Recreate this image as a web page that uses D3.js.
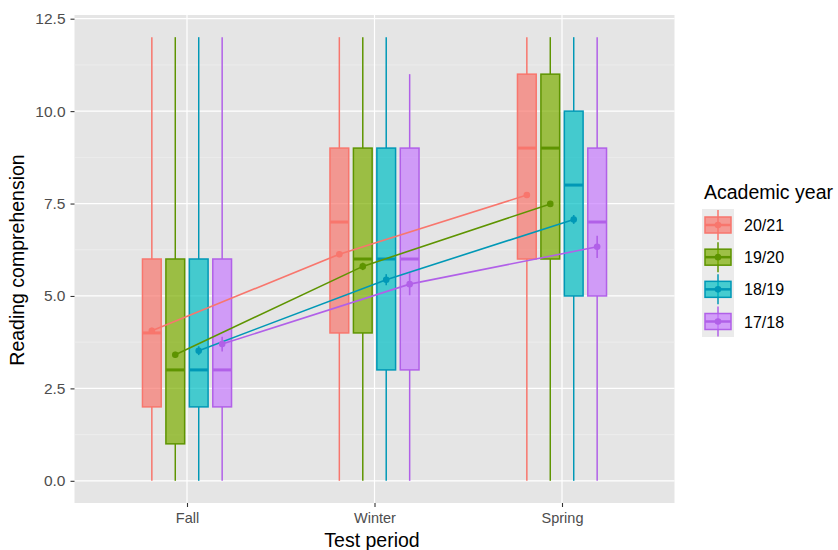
<!DOCTYPE html>
<html>
<head>
<meta charset="utf-8">
<script src="https://cdn.jsdelivr.net/npm/d3@7"></script>
<style>
  body { margin: 0; background: #fff; }
  text { font-family: "Liberation Sans", Arial, sans-serif; }
</style>
</head>
<body>
<div id="chart"></div>
<script>
// categories
const periods = ["Fall", "Winter", "Spring"];
const years = ["20/21", "19/20", "18/19", "17/18"];
const yTicks = [0, 2.5, 5, 7.5, 10, 12.5];

// box stats, one row per year, one column per period
const whiskLo = [[0, 0, 0], [0, 0, 0], [0, 0, 0], [0, 0, 0]];
const q1 = [[2, 4, 6], [1, 4, 6], [2, 3, 5], [2, 3, 5]];
const med = [[4, 7, 9], [3, 6, 9], [3, 6, 8], [3, 6, 7]];
const q3 = [[6, 9, 11], [6, 9, 11], [6, 9, 10], [6, 9, 9]];
const whiskHi = [[12, 12, 12], [12, 12, 12], [12, 12, 12], [12, 11, 12]];

// means and standard errors
const means = [[4.06, 6.13, 7.73], [3.41, 5.8, 7.49], [3.52, 5.44, 7.07], [3.7, 5.32, 6.33]];
const se = [[0.08, 0.08, 0.08], [0.08, 0.1, 0.08], [0.12, 0.15, 0.12], [0.2, 0.3, 0.3]];

const fillColors = ["#F8766D", "#7CAE00", "#00BFC4", "#C77CFF"];
const lineColors = ["#F8766D", "#5E9400", "#0098B6", "#B160E8"];

const width = 838, height = 550;
const margin = {top: 15, right: 163.5, bottom: 47, left: 74.5};
const innerWidth = width - margin.left - margin.right;
const innerHeight = height - margin.top - margin.bottom;

const svg = d3.select("#chart").append("svg")
    .attr("width", width)
    .attr("height", height);

const g = svg.append("g")
    .attr("transform", "translate(" + margin.left + "," + margin.top + ")");

// scales
let xScale = d3.scalePoint().domain(periods).range([0, innerWidth]).padding(0.6);
let step = xScale.step();
let dodge = d3.scaleBand().domain(years).range([-0.25 * step, 0.25 * step]);
let yScale = d3.scaleLinear().domain([-0.6, 12.6]).range([innerHeight, 0]);
let boxW = 0.1 * step;

let xPos = (p, y) => xScale(periods[p]) + dodge(years[y]) + dodge.bandwidth() / 2;

// panel
g.append("rect")
    .attr("width", innerWidth)
    .attr("height", innerHeight)
    .attr("fill", "#E5E5E5");

// minor gridlines
let minor = d3.range(1.25, 12.5, 2.5);
g.selectAll(".minor").data(minor).join("line")
    .attr("x1", 0).attr("x2", innerWidth)
    .attr("y1", d => yScale(d)).attr("y2", d => yScale(d))
    .attr("stroke", "#F2F2F2").attr("stroke-width", 0.6);

// major gridlines
g.selectAll(".hmajor").data(yTicks).join("line")
    .attr("x1", 0).attr("x2", innerWidth)
    .attr("y1", d => yScale(d)).attr("y2", d => yScale(d))
    .attr("stroke", "#fff").attr("stroke-width", 1.2);
g.selectAll(".vmajor").data(periods).join("line")
    .attr("x1", d => xScale(d)).attr("x2", d => xScale(d))
    .attr("y1", 0).attr("y2", innerHeight)
    .attr("stroke", "#fff").attr("stroke-width", 1.2);

// flatten box data
let boxes = [];
years.forEach((yr, i) => {
    periods.forEach((p, j) => {
        boxes.push({i: i, j: j, lo: whiskLo[i][j], q1: q1[i][j], med: med[i][j],
            q3: q3[i][j], hi: whiskHi[i][j]});
    });
});

let boxG = g.selectAll(".box").data(boxes).join("g").attr("class", "box");

// whiskers
boxG.append("line")
    .attr("x1", d => xPos(d.j, d.i)).attr("x2", d => xPos(d.j, d.i))
    .attr("y1", d => yScale(d.lo)).attr("y2", d => yScale(d.q1))
    .attr("stroke", d => lineColors[d.i]).attr("stroke-width", 1.5);
boxG.append("line")
    .attr("x1", d => xPos(d.j, d.i)).attr("x2", d => xPos(d.j, d.i))
    .attr("y1", d => yScale(d.q3)).attr("y2", d => yScale(d.hi))
    .attr("stroke", d => lineColors[d.i]).attr("stroke-width", 1.5);

// boxes
boxG.append("rect")
    .attr("x", d => xPos(d.j, d.i) - boxW / 2)
    .attr("width", boxW)
    .attr("y", d => yScale(d.q3))
    .attr("height", d => yScale(d.q1) - yScale(d.q3))
    .attr("fill", d => fillColors[d.i]).attr("fill-opacity", 0.7)
    .attr("stroke", d => lineColors[d.i]).attr("stroke-width", 1.5);

// medians
boxG.append("line")
    .attr("x1", d => xPos(d.j, d.i) - boxW / 2).attr("x2", d => xPos(d.j, d.i) + boxW / 2)
    .attr("y1", d => yScale(d.med)).attr("y2", d => yScale(d.med))
    .attr("stroke", d => lineColors[d.i]).attr("stroke-width", 3);

// mean lines
let line = d3.line().x(d => d[0]).y(d => yScale(d[1]));
years.forEach((yr, i) => {
    let pts = periods.map((p, j) => [xPos(j, i), means[i][j]]);
    g.append("path")
        .datum(pts)
        .attr("fill", "none")
        .attr("stroke", lineColors[i])
        .attr("stroke-width", 1.6)
        .attr("d", line);
});

// mean points with error bars
let meanPts = [];
years.forEach((yr, i) => periods.forEach((p, j) => meanPts.push({i: i, j: j, m: means[i][j], s: se[i][j]})));
g.selectAll(".err").data(meanPts).join("line")
    .attr("x1", d => xPos(d.j, d.i)).attr("x2", d => xPos(d.j, d.i))
    .attr("y1", d => yScale(d.m - d.s)).attr("y2", d => yScale(d.m + d.s))
    .attr("stroke", d => lineColors[d.i]).attr("stroke-width", 1.6);
g.selectAll(".mean").data(meanPts).join("circle")
    .attr("cx", d => xPos(d.j, d.i)).attr("cy", d => yScale(d.m))
    .attr("r", 3.3)
    .attr("fill", d => lineColors[d.i]);

// axes
let yAxis = d3.axisLeft(yScale).tickValues(yTicks).tickFormat(d3.format(".1f")).tickSize(4).tickPadding(5);
let xAxis = d3.axisBottom(xScale).tickSize(4).tickPadding(6);

let yG = g.append("g").call(yAxis);
let xG = g.append("g").attr("transform", "translate(0," + innerHeight + ")").call(xAxis);
[yG, xG].forEach(a => {
    a.select(".domain").remove();
    a.selectAll(".tick line").attr("stroke", "#333").attr("stroke-width", 1.1);
    a.selectAll(".tick text").attr("fill", "#4D4D4D")
        .style("font-family", "'Liberation Sans', Arial, sans-serif");
});
yG.selectAll(".tick text").style("font-size", "15.5px");
xG.selectAll(".tick text").style("font-size", "14.5px");

// axis titles
svg.append("text")
    .attr("x", 372)
    .attr("y", 547)
    .attr("text-anchor", "middle")
    .style("font-size", "19.5px")
    .text("Test period");
svg.append("text")
    .attr("transform", "translate(24," + (margin.top + innerHeight / 2 + 1) + ") rotate(-90)")
    .attr("text-anchor", "middle")
    .style("font-size", "19.5px")
    .text("Reading comprehension");

// legend
let lg = svg.append("g").attr("transform", "translate(702,0)");
lg.append("text")
    .attr("x", 2).attr("y", 199)
    .style("font-size", "19.5px")
    .text("Academic year");
lg.append("rect")
    .attr("x", 0).attr("y", 209)
    .attr("width", 32).attr("height", 128)
    .attr("fill", "#EBEBEB");

let rowY = d3.scalePoint().domain(years).range([225, 321.5]);
let key = lg.selectAll(".key").data(years).join("g")
    .attr("transform", d => "translate(16," + rowY(d) + ")");
key.append("line")
    .attr("y1", -15).attr("y2", 15)
    .attr("stroke", (d, i) => lineColors[i]).attr("stroke-width", 1.5);
key.append("rect")
    .attr("x", -13).attr("y", -8).attr("width", 26).attr("height", 16)
    .attr("fill", (d, i) => fillColors[i]).attr("fill-opacity", 0.7)
    .attr("stroke", (d, i) => lineColors[i]).attr("stroke-width", 1.5);
key.append("line")
    .attr("x1", -13).attr("x2", 13)
    .attr("stroke", (d, i) => lineColors[i]).attr("stroke-width", 2.5);
key.append("circle")
    .attr("r", 3.3)
    .attr("fill", (d, i) => lineColors[i]);
key.append("text")
    .attr("x", 26).attr("y", 6)
    .style("font-size", "16px")
    .attr("fill", "#000")
    .text(d => d);
</script>
</body>
</html>
